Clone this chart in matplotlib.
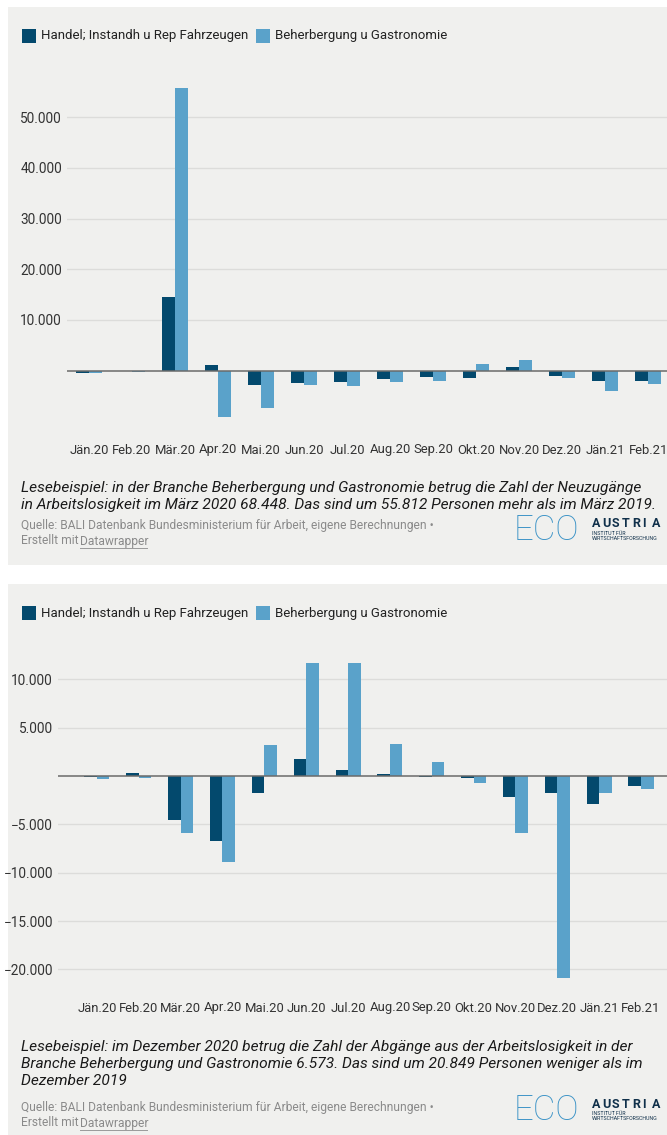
import matplotlib.pyplot as plt
import numpy as np
from matplotlib.patches import Rectangle
from matplotlib.ticker import FuncFormatter
from matplotlib.transforms import blended_transform_factory

plt.rcParams['font.family'] = ['Roboto', 'DejaVu Sans']

# Daten
months = ['Jän.20', 'Feb.20', 'Mär.20', 'Apr.20', 'Mai.20', 'Jun.20', 'Jul.20',
          'Aug.20', 'Sep.20', 'Okt.20', 'Nov.20', 'Dez.20', 'Jän.21', 'Feb.21']
series_names = ['Handel; Instandh u Rep Fahrzeugen', 'Beherbergung u Gastronomie']

# Zugänge (Veränderung ggü. Vorjahr)
zugang_handel = [-400, -50, 14600, 1050, -2800, -2500, -2300, -1600, -1300, -1500, 650, -1050, -2000, -2100]
zugang_gastro = [-400, -200, 55812, -9070, -7400, -2900, -2950, -2200, -2000, 1300, 2100, -1500, -4000, -2550]
zugang_ticks = [10000, 20000, 30000, 40000, 50000]

# Abgänge (Veränderung ggü. Vorjahr)
abgang_handel = [-150, 280, -4550, -6700, -1800, 1720, 620, 200, -140, -200, -2140, -1800, -2900, -1000]
abgang_gastro = [-350, -240, -5860, -8930, 3170, 11650, 11650, 3280, 1410, -690, -5930, -20849, -1800, -1340]
abgang_ticks = [10000, 5000, -5000, -10000, -15000, -20000]

note1 = ('Lesebeispiel: in der Branche Beherbergung und Gastronomie betrug die Zahl der Neuzugänge\n'
         'in Arbeitslosigkeit im März 2020 68.448. Das sind um 55.812 Personen mehr als im März 2019.')
note2 = ('Lesebeispiel: im Dezember 2020 betrug die Zahl der Abgänge aus der Arbeitslosigkeit in der\n'
         'Branche Beherbergung und Gastronomie 6.573. Das sind um 20.849 Personen weniger als im\n'
         'Dezember 2019')
source = 'Quelle: BALI Datenbank Bundesministerium für Arbeit, eigene Berechnungen •'

DARK = '#03496d'
LIGHT = '#5aa2ca'
BG = '#f0f0ee'
GRID = '#dcdcda'

W, H = 667, 1135
fig = plt.figure(figsize=(W / 100, H / 100), dpi=100)
fig.patch.set_facecolor('white')


def fx(px):
    return px / W


def fy(py):
    return 1 - py / H


def rect(l, t, r, b):
    return [fx(l), fy(b), (r - l) / W, (b - t) / H]


def thousands(v, pos=None):
    s = f'{abs(v):,.0f}'.replace(',', '.')
    return ('\u2212' if v < 0 else '') + s


def panel(top, bottom, ax_box, ylim, xlim, handel, gastro, ticks, label_y, legend_y,
          note, note_y, source_y, logo_y):
    fig.patches.append(Rectangle((fx(8), fy(bottom)), fx(700) - fx(8), (bottom - top) / H,
                                 transform=fig.transFigure, facecolor=BG, edgecolor='none',
                                 zorder=-10))

    # Legende
    for name, col, tx in zip(series_names, [DARK, LIGHT], [22, 256]):
        fig.patches.append(Rectangle((fx(tx), fy(legend_y + 7)), 14 / W, 14 / H,
                                     transform=fig.transFigure, facecolor=col, edgecolor='none'))
        fig.text(fx(tx + 19), fy(legend_y), name, fontsize=9.5, color='#222222', va='center', ha='left')

    ax = fig.add_axes(rect(*ax_box))
    ax.set_facecolor('none')
    x = np.arange(len(months))
    w = 0.3
    ax.bar(x - w / 2, handel, w, color=DARK, zorder=2)
    ax.bar(x + w / 2, gastro, w, color=LIGHT, zorder=2)
    for t in ticks:
        ax.axhline(t, color=GRID, lw=1, zorder=1)
    ax.axhline(0, color='#6a6a6a', lw=1.1, zorder=3)
    ax.set_ylim(*ylim)
    ax.set_xlim(*xlim)
    ax.set_yticks(ticks)
    ax.yaxis.set_major_formatter(FuncFormatter(thousands))
    ax.tick_params(axis='y', length=0, pad=3.6, labelsize=9.8, labelcolor='#333333')
    ax.set_xticks([])
    for s in ax.spines.values():
        s.set_visible(False)
    tr = blended_transform_factory(ax.transData, fig.transFigure)
    for i, m in enumerate(months):
        ax.text(i, fy(label_y), m, transform=tr, ha='center', va='center',
                fontsize=9.4, color='#333333')

    fig.text(fx(21), fy(note_y), note, fontsize=11.15, style='italic', color='#1a1a1a',
             va='top', ha='left', linespacing=1.28)
    fig.text(fx(21), fy(source_y), source, fontsize=8.65, color='#8a8a8a', va='center', ha='left')
    fig.text(fx(21), fy(source_y + 15), 'Erstellt mit', fontsize=8.65, color='#8a8a8a',
             va='center', ha='left')
    fig.text(fx(80), fy(source_y + 15), 'Datawrapper', fontsize=8.65, color='#8a8a8a',
             va='center', ha='left')
    fig.lines.append(plt.Line2D([fx(80), fx(147)], [fy(source_y + 22), fy(source_y + 22)],
                                transform=fig.transFigure, color='#9a9a9a', lw=0.7))

    # Logo
    fig.text(fx(514), fy(logo_y), 'ECO', fontsize=25, fontweight='light', color='#3a92c6',
             va='center', ha='left')
    for k, ch in enumerate('AUSTRIA'):
        fig.text(fx(592 + k * 10.0), fy(logo_y - 6), ch, fontsize=9, fontweight='bold',
                 color='#10304a', va='center', ha='left')
    fig.text(fx(592), fy(logo_y + 6), 'INSTITUT FÜR\nWIRTSCHAFTSFORSCHUNG', fontsize=3.8,
             color='#10304a', va='center', ha='left', linespacing=1.0)
    return ax


# Panel 1: Zugänge
ax1 = panel(7, 565, (67, 76.6, 667, 431.5), (-12000, 58000), (-0.51, 13.44),
            zugang_handel, zugang_gastro, zugang_ticks, 450, 36,
            note1, 481, 526, 530)

# Panel 2: Abgänge
ax2 = panel(584, 1135, (58, 650.3, 667, 998.4), (-23000, 13000), (-0.93, 13.62),
            abgang_handel, abgang_gastro, abgang_ticks, 1008, 613,
            note2, 1040, 1108, 1110)

fig.savefig('out.png', dpi=100, facecolor='white')
